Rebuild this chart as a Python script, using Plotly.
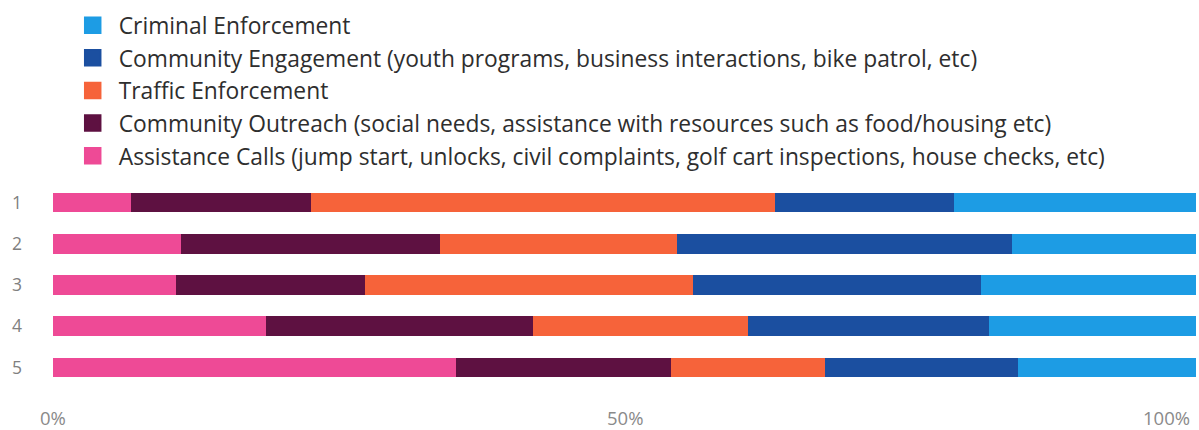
import plotly.graph_objects as go

# Rows shown on the category axis (top to bottom)
rows = ["1", "2", "3", "4", "5"]

# Share of activity per row, in percent (stacked left to right)
assistance_calls = [6.8, 11.2, 10.8, 18.6, 35.3]
community_outreach = [15.8, 22.7, 16.5, 23.4, 18.8]
traffic_enforcement = [40.6, 20.7, 28.7, 18.8, 13.4]
community_engagement = [15.6, 29.3, 25.2, 21.1, 16.9]
criminal_enforcement = [21.2, 16.1, 18.8, 18.1, 15.6]

series_names = [
    "Assistance Calls (jump start, unlocks, civil complaints, golf cart inspections, house checks, etc)",
    "Community Outreach (social needs, assistance with resources such as food/housing etc)",
    "Traffic Enforcement",
    "Community Engagement (youth programs, business interactions, bike patrol, etc)",
    "Criminal Enforcement",
]
series_values = [
    assistance_calls,
    community_outreach,
    traffic_enforcement,
    community_engagement,
    criminal_enforcement,
]
series_colors = ["#EE4A96", "#5E1141", "#F6633A", "#1B4FA0", "#1D9CE4"]

tick_values = [0, 50, 100]
tick_labels = ["0%", "50%", "100%"]

FONT = "Open Sans"

fig = go.Figure()
for name, vals, color in zip(series_names, series_values, series_colors):
    fig.add_trace(go.Bar(
        y=rows, x=vals, orientation="h", name=name,
        marker=dict(color=color, line=dict(width=0)),
        showlegend=False,
    ))

# square swatches for the legend, listed from the right-most segment down
for name, color in zip(series_names[::-1], series_colors[::-1]):
    fig.add_trace(go.Scatter(
        x=[None], y=[None], mode="markers", name=name,
        marker=dict(symbol="square", size=16, color=color,
                    line=dict(width=1.5, color=color)),
        showlegend=True,
    ))

# x-axis tick labels: last one is pulled inside the right edge
anchors = ["center", "center", "right"]
shifts = [0, 0, -4]
for v, t, a, s in zip(tick_values, tick_labels, anchors, shifts):
    fig.add_annotation(
        x=v, y=0, xref="x", yref="paper", text=t, showarrow=False,
        xanchor=a, yanchor="middle", yshift=-29, xshift=s,
        font=dict(family=FONT, size=18.5, color="#8a8a8a"),
    )

fig.update_layout(
    width=1199, height=430,
    margin=dict(l=53, r=3, t=180, b=42),
    paper_bgcolor="white", plot_bgcolor="white",
    barmode="stack", barnorm="percent", bargap=0.52,
    showlegend=True,
    legend=dict(
        xref="paper", yref="paper",
        x=0.012, y=1.865, xanchor="left", yanchor="top",
        traceorder="normal",
        itemwidth=42,
        font=dict(family=FONT, size=22.8, color="#2e2e2e"),
        bgcolor="rgba(0,0,0,0)",
    ),
    xaxis=dict(
        range=[0, 100], showgrid=False, zeroline=False,
        showticklabels=False, showline=False, fixedrange=True,
    ),
    yaxis=dict(
        autorange="reversed", type="category",
        showgrid=False, zeroline=False, showline=False,
        tickfont=dict(family=FONT, size=17.5, color="#808080"),
        ticks="", ticklabelstandoff=30,
    ),
)

fig.write_html("out.html")
